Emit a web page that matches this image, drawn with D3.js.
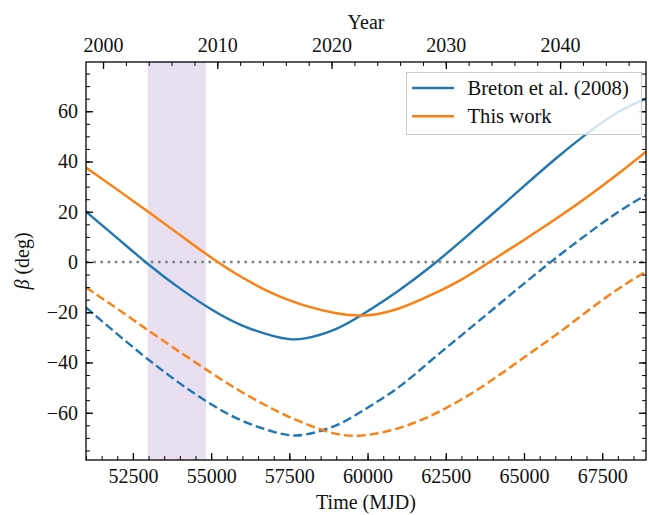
<!DOCTYPE html>
<html lang="en">
<head>
    <meta charset="UTF-8">
    <title>Beta vs time</title>
    <script src="https://d3js.org/d3.v7.min.js"></script>
    <style>
        body { margin: 0; background: #fff; }
        svg text { font-family: "Liberation Serif", "DejaVu Serif", serif; fill: #111; }
    </style>
</head>
<body>
    <div id="chart"></div>

    <script>
        // datos (MJD, beta en grados)
        var mjd = [51000, 52000, 53000, 54000, 55000, 56000, 57000, 57500, 58000, 59000,
                   60000, 61000, 62000, 63000, 64000, 65000, 66000, 67000, 68000, 68900];
        var bretonSolid = [20.0, 9.5, -1.0, -10.5, -18.8, -25.3, -29.5, -30.7, -30.4, -26.6,
                           -19.6, -11.3, -2.0, 8.4, 19.2, 30.2, 41.0, 51.0, 59.6, 65.0];
        var bretonDashed = [-18.1, -28.7, -38.9, -48.3, -56.6, -63.2, -67.6, -68.9, -68.7, -65.0,
                            -58.0, -49.8, -39.5, -29.2, -18.9, -8.6, 1.4, 10.9, 19.8, 26.7];
        var thisSolid = [37.6, 28.8, 19.9, 10.8, 1.8, -6.2, -12.7, -15.2, -17.4, -20.4,
                         -21.2, -18.5, -13.3, -7.0, 0.8, 8.8, 17.0, 25.7, 35.0, 43.9];
        var thisDashed = [-10.1, -18.6, -27.3, -35.8, -44.1, -51.9, -58.7, -61.7, -64.3, -68.4,
                          -68.8, -66.1, -61.3, -54.7, -46.8, -38.0, -29.2, -19.8, -10.8, -3.8];

        var span = [52970, 54835];          // zona sombreada
        var xTicks = [52500, 55000, 57500, 60000, 62500, 65000, 67500];
        var yTicks = [-60, -40, -20, 0, 20, 40, 60];
        var yearTicks = [2000, 2010, 2020, 2030, 2040];
        var legendLabels = ["Breton et al. (2008)", "This work"];

        var width = 649;
        var height = 515;
        var pLeft = 86, pRight = 646, pTop = 62, pBottom = 460;
        var blue = "#1f77b4", orange = "#ff7f0e";

        var svg = d3.select("#chart")
                    .append("svg")
                    .attr("width", width)
                    .attr("height", height);

        var xScale = d3.scaleLinear().domain([51000, 68900]).range([pLeft, pRight]);
        var yScale = d3.scaleLinear().domain([-78.8, 79.6]).range([pBottom, pTop]);

        // eje superior en años (MJD 51544 = 2000.0)
        function toYear(m) { return 2000 + (m - 51544) / 365.25; }
        var yearScale = d3.scaleLinear()
                          .domain([toYear(51000), toYear(68900)])
                          .range([pLeft, pRight]);

        svg.append("defs").append("clipPath").attr("id", "clip")
           .append("rect")
           .attr("x", pLeft).attr("y", pTop)
           .attr("width", pRight - pLeft).attr("height", pBottom - pTop);

        // zona sombreada
        svg.append("rect")
           .attr("x", xScale(span[0]))
           .attr("y", pTop)
           .attr("width", xScale(span[1]) - xScale(span[0]))
           .attr("height", pBottom - pTop)
           .attr("fill", "#e8e0f1");

        // linea punteada en cero
        svg.append("line")
           .attr("x1", pLeft).attr("x2", pRight)
           .attr("y1", yScale(0)).attr("y2", yScale(0))
           .attr("stroke", "#808080")
           .attr("stroke-width", 2.6)
           .attr("stroke-dasharray", "2.6,4.6");

        var line = d3.line()
                     .x(function(d) { return xScale(d[0]); })
                     .y(function(d) { return yScale(d[1]); })
                     .curve(d3.curveNatural);

        var series = [
            { values: bretonDashed, color: blue, dash: "9,4" },
            { values: thisDashed, color: orange, dash: "9,4" },
            { values: bretonSolid, color: blue, dash: null },
            { values: thisSolid, color: orange, dash: null }
        ];

        var plot = svg.append("g").attr("clip-path", "url(#clip)");
        series.forEach(function(s) {
            plot.append("path")
                .datum(mjd.map(function(m, i) { return [m, s.values[i]]; }))
                .attr("d", line)
                .attr("fill", "none")
                .attr("stroke", s.color)
                .attr("stroke-width", 2.4)
                .attr("stroke-dasharray", s.dash);
        });

        // ejes con ticks hacia adentro
        function minorRange(a, b, step) {
            var out = [];
            for (var v = a; v <= b + 1e-9; v += step) out.push(v);
            return out;
        }
        function styleAxis(g, w) {
            g.select(".domain").remove();
            g.selectAll("line").attr("stroke", "#000").attr("stroke-width", w);
            g.selectAll("text").attr("font-size", "20px").attr("fill", "#111");
        }

        var fmtMinus = function(d) { return d < 0 ? "\u2212" + Math.abs(d) : "" + d; };

        // abajo
        svg.append("g").attr("transform", "translate(0," + pBottom + ")")
           .call(d3.axisBottom(xScale).tickValues(minorRange(51000, 68500, 500)).tickSize(-4).tickFormat(""))
           .call(styleAxis, 1);
        svg.append("g").attr("transform", "translate(0," + pBottom + ")")
           .call(d3.axisBottom(xScale).tickValues(xTicks).tickSize(-7).tickPadding(9).tickFormat(d3.format("d")))
           .call(styleAxis, 1.3);

        // arriba (años)
        svg.append("g").attr("transform", "translate(0," + pTop + ")")
           .call(d3.axisTop(yearScale).tickValues(minorRange(2000, 2046, 2)).tickSize(-4).tickFormat(""))
           .call(styleAxis, 1);
        svg.append("g").attr("transform", "translate(0," + pTop + ")")
           .call(d3.axisTop(yearScale).tickValues(yearTicks).tickSize(-7).tickPadding(10).tickFormat(d3.format("d")))
           .call(styleAxis, 1.3);

        // izquierda
        svg.append("g").attr("transform", "translate(" + pLeft + ",0)")
           .call(d3.axisLeft(yScale).tickValues(minorRange(-75, 75, 5)).tickSize(-4).tickFormat(""))
           .call(styleAxis, 1);
        svg.append("g").attr("transform", "translate(" + pLeft + ",0)")
           .call(d3.axisLeft(yScale).tickValues(yTicks).tickSize(-7).tickPadding(8).tickFormat(fmtMinus))
           .call(styleAxis, 1.3);

        // derecha (sin etiquetas)
        svg.append("g").attr("transform", "translate(" + pRight + ",0)")
           .call(d3.axisRight(yScale).tickValues(minorRange(-75, 75, 5)).tickSize(-4).tickFormat(""))
           .call(styleAxis, 1);
        svg.append("g").attr("transform", "translate(" + pRight + ",0)")
           .call(d3.axisRight(yScale).tickValues(yTicks).tickSize(-7).tickFormat(""))
           .call(styleAxis, 1.3);

        // marco
        svg.append("rect")
           .attr("x", pLeft).attr("y", pTop)
           .attr("width", pRight - pLeft).attr("height", pBottom - pTop)
           .attr("fill", "none")
           .attr("stroke", "#000")
           .attr("stroke-width", 1.3);

        // titulos de ejes
        svg.append("text")
           .attr("x", (pLeft + pRight) / 2).attr("y", 509)
           .attr("text-anchor", "middle")
           .attr("font-size", "20px")
           .text("Time (MJD)");

        svg.append("text")
           .attr("x", (pLeft + pRight) / 2).attr("y", 29)
           .attr("text-anchor", "middle")
           .attr("font-size", "20px")
           .text("Year");

        var yLabel = svg.append("text")
           .attr("transform", "translate(29," + ((pTop + pBottom) / 2) + ") rotate(-90)")
           .attr("text-anchor", "middle")
           .attr("font-size", "20px");
        yLabel.append("tspan").attr("font-style", "italic").text("\u03b2");
        yLabel.append("tspan").text(" (deg)");

        // leyenda
        var legend = svg.append("g");
        legend.append("rect")
              .attr("x", 406.5).attr("y", 72.5)
              .attr("width", 235).attr("height", 62)
              .attr("fill", "#fff")
              .attr("fill-opacity", 0.8)
              .attr("stroke", "#cccccc")
              .attr("stroke-width", 1);

        var legendColors = [blue, orange];
        legendLabels.forEach(function(label, i) {
            var ly = 88 + i * 28.3;
            legend.append("line")
                  .attr("x1", 412).attr("x2", 454)
                  .attr("y1", ly).attr("y2", ly)
                  .attr("stroke", legendColors[i])
                  .attr("stroke-width", 2.4);
            legend.append("text")
                  .attr("x", 467.5).attr("y", ly + 7)
                  .attr("font-size", "20.6px")
                  .text(label);
        });
    </script>
</body>
</html>
